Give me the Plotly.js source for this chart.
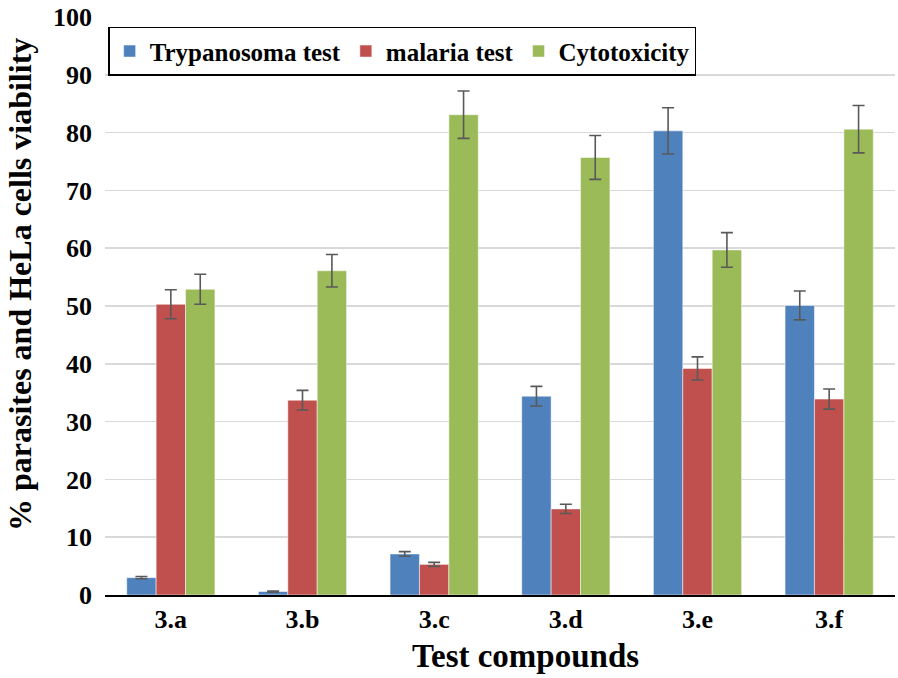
<!DOCTYPE html>
<html>
<head>
<meta charset="utf-8">
<script src="https://cdn.plot.ly/plotly-3.0.1.min.js"></script>
<style>
  html, body { margin: 0; padding: 0; background: #fff; }
  #chart { width: 898px; height: 678px; }
</style>
</head>
<body>
<div id="chart"></div>
<script>
  // values
  var compounds = ["3.a", "3.b", "3.c", "3.d", "3.e", "3.f"];
  var y_ticks = [0, 10, 20, 30, 40, 50, 60, 70, 80, 90, 100];

  var trypanosoma = [3.0, 0.6, 7.1, 34.4, 80.3, 50.1];
  var trypanosoma_err = [0.2, 0.1, 0.4, 1.7, 4.0, 2.5];

  var malaria = [50.3, 33.7, 5.3, 14.9, 39.2, 33.9];
  var malaria_err = [2.5, 1.7, 0.35, 0.8, 2.0, 1.75];

  var cytotox = [52.9, 56.1, 83.1, 75.7, 59.7, 80.6];
  var cytotox_err = [2.6, 2.8, 4.1, 3.8, 3.0, 4.1];

  var serif = "Times New Roman, Liberation Serif, serif";

  function makeTrace(name, y, err, color) {
      return {
          type: "bar",
          name: name,
          x: compounds,
          y: y,
          marker: {
              color: color,
              line: { color: "rgba(255,255,255,0.5)", width: 1 }
          },
          error_y: {
              type: "data",
              array: err,
              visible: true,
              color: "#595959",
              thickness: 1.6,
              width: 6
          }
      };
  }

  var data = [
      makeTrace("Trypanosoma test", trypanosoma, trypanosoma_err, "#4f81bd"),
      makeTrace("malaria test", malaria, malaria_err, "#c0504d"),
      makeTrace("Cytotoxicity", cytotox, cytotox_err, "#9bbb59")
  ];

  var layout = {
      width: 898,
      height: 678,
      margin: { l: 105, r: 3, t: 17, b: 83 },
      paper_bgcolor: "#ffffff",
      plot_bgcolor: "#ffffff",
      barmode: "group",
      bargap: 0.33,
      bargroupgap: 0,
      font: { family: serif, color: "#000000", weight: 700 },
      xaxis: {
          type: "category",
          showgrid: false,
          showline: true,
          linecolor: "#000000",
          linewidth: 2,
          ticks: "",
          tickfont: { family: serif, size: 26, color: "#000000", weight: 700 }
      },
      yaxis: {
          range: [0, 100],
          tickmode: "array",
          tickvals: y_ticks,
          showgrid: true,
          gridcolor: "#d9d9d9",
          gridwidth: 1.5,
          zeroline: false,
          showline: false,
          ticks: "",
          ticklabelstandoff: 12,
          tickfont: { family: serif, size: 26, color: "#000000", weight: 700 }
      },
      annotations: [
          {
              text: "Test compounds",
              xref: "paper", yref: "paper",
              x: 0.532, y: -0.1055,
              xanchor: "center", yanchor: "middle",
              showarrow: false,
              font: { family: serif, size: 33, color: "#000000", weight: 700 }
          },
          {
              text: "% parasites and HeLa cells viability",
              xref: "paper", yref: "paper",
              x: -0.1076, y: 0.538,
              xanchor: "center", yanchor: "middle",
              textangle: -90,
              showarrow: false,
              font: { family: serif, size: 32, color: "#000000", weight: 700 }
          }
      ],
      legend: {
          orientation: "h",
          x: 0.004,
          xanchor: "left",
          y: 0.983,
          yanchor: "top",
          bgcolor: "#ffffff",
          bordercolor: "#000000",
          borderwidth: 1.5,
          font: { family: serif, size: 25, color: "#000000", weight: 700 },
          itemwidth: 30
      },
      showlegend: true
  };

  Plotly.newPlot("chart", data, layout, { displayModeBar: false, staticPlot: true });
</script>
</body>
</html>
